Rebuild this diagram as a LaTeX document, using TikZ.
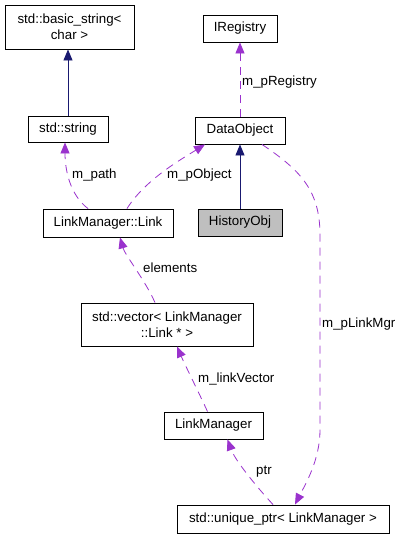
\documentclass[tikz,border=0pt]{standalone}
\usepackage{fontspec}
\setmainfont{Liberation Sans}
\usetikzlibrary{arrows.meta}
\definecolor{usecol}{HTML}{9A32CD}
\definecolor{inhcol}{HTML}{191970}
\definecolor{histfill}{HTML}{BFBFBF}
\begin{document}
\begin{tikzpicture}[x=1pt,y=-1pt,
  box/.style={draw=black,line width=0.9pt,rectangle,inner sep=0pt,align=center,
    font=\fontsize{13.3}{16}\selectfont},
  inh/.style={draw=inhcol,line width=0.9pt,-{Triangle[length=11pt,width=9pt]}},
  use/.style={draw=usecol,line width=0.8pt,dash pattern=on 8pt off 6pt,
    -{Triangle[length=11pt,width=9pt,fill=usecol]}},
  lbl/.style={anchor=west,inner sep=0pt,font=\fontsize{13.3}{16}\selectfont}]
\useasboundingbox (0,0) rectangle (404,539);
\fill[white] (0,0) rectangle (404,539);
% nodes
\node[box,minimum width=129pt,minimum height=44pt] (bs) at (69.5,27) {std::basic\_string<\\char >};
\node[box,minimum width=80pt,minimum height=26pt] (str) at (68,129) {std::string};
\node[box,minimum width=74pt,minimum height=27pt] (ireg) at (240,28.5) {IRegistry};
\node[box,minimum width=90pt,minimum height=27pt] (dobj) at (240,130.5) {DataObject};
\node[box,fill=histfill,minimum width=84pt,minimum height=27pt] (hist) at (240,222.5) {HistoryObj};
\node[box,minimum width=130pt,minimum height=28pt] (link) at (108,223) {LinkManager::Link};
\node[box,minimum width=172pt,minimum height=43pt] (vec) at (167,324.5) {std::vector< LinkManager\\::Link * >};
\node[box,minimum width=99pt,minimum height=27pt] (lm) at (213.5,425.5) {LinkManager};
\node[box,minimum width=212pt,minimum height=28pt] (up) at (283,519) {std::unique\_ptr< LinkManager >};
% coordinates for edge ends
\coordinate (bsBot) at (str.north |- bs.south);
% inheritance
\draw[inh] (str.north) -- (bsBot);
\draw[inh] (hist.north) -- (dobj.south);
% usage
\draw[use] (dobj.north) -- (ireg.south);
\draw[use] ([xshift=-20pt]link.north) .. controls (70,195) and (65,170) .. ([xshift=-3pt]str.south);
\draw[use] ([xshift=19pt]link.north) .. controls (145,180) and (180,160) .. ([xshift=-35pt]dobj.south);
\draw[use] ([xshift=-12pt]vec.north) .. controls (145,280) and (125,255) .. ([xshift=12pt]link.south);
\draw[use] ([xshift=-6pt]lm.north) .. controls (200,395) and (185,365) .. ([xshift=10pt]vec.south);
\draw[use] ([xshift=-10pt]up.north) .. controls (255,485) and (235,460) .. ([xshift=14pt]lm.south);
\draw[use] ([xshift=22pt]dobj.south) .. controls (300,170) and (320,190) .. (320,235)
  -- (320,430) .. controls (320,460) and (305,485) .. ([xshift=12pt]up.north);
% labels
\node[lbl] (l1) at (242,82) {m\_pRegistry};
\node[lbl] (l2) at (72,175) {m\_path};
\node[lbl] (l3) at (167,175) {m\_pObject};
\node[lbl] (l4) at (143,268) {elements};
\node[lbl] (l5) at (198,379) {m\_linkVector};
\node[lbl] (l6) at (256,472) {ptr};
\node[lbl] (l7) at (322,324) {m\_pLinkMgr};
\end{tikzpicture}
\end{document}
